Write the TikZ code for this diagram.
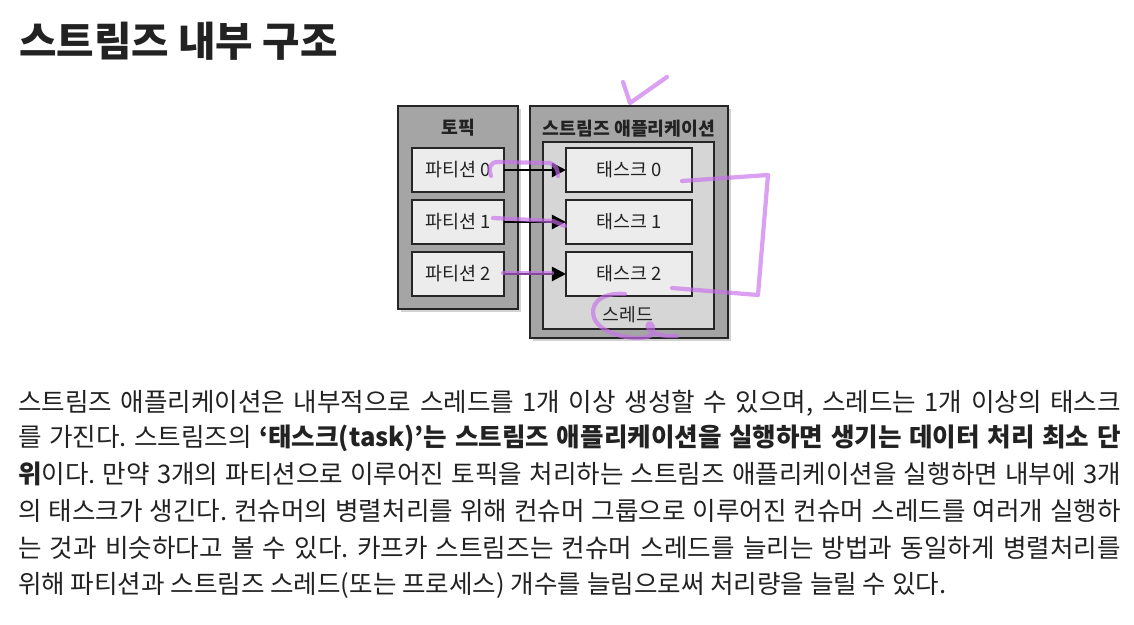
\documentclass[tikz,border=0pt]{standalone}
\usepackage{fontspec}
\setmainfont{Noto Sans CJK KR}
\usepackage{tikz}
\usetikzlibrary{arrows.meta, positioning, shadows}
\definecolor{ink}{RGB}{34, 34, 34}
\definecolor{groupgray}{RGB}{165, 165, 165}
\definecolor{threadgray}{RGB}{214, 214, 214}
\definecolor{itemgray}{RGB}{236, 236, 236}
\definecolor{pen}{RGB}{200, 110, 235}

\begin{document}
\frenchspacing
\begin{tikzpicture}[
    x=0.02cm, y=-0.02cm,
    every node/.style={inner sep=0pt, outer sep=0pt, text=ink},
    groupbox/.style={rectangle, draw=black!85, fill=groupgray, line width=1pt, drop shadow={shadow xshift=1.6pt, shadow yshift=-1.6pt, opacity=0.35}},
    threadbox/.style={rectangle, draw=black!85, fill=threadgray, line width=1pt},
    item/.style={rectangle, draw=black!85, fill=itemgray, line width=1pt, minimum height=0.88cm, font=\fontsize{10.5}{12}\selectfont},
    grouplabel/.style={font=\fontsize{10.4}{12}\selectfont\bfseries},
    bodyline/.style={anchor=west, font=\fontsize{14.55}{17}\selectfont},
    arrow/.style={-{Triangle[length=8pt, width=8pt]}, line width=1.4pt, black},
    scribble/.style={draw=pen, line width=2.4pt, line cap=round, line join=round, opacity=0.65}
]
    \useasboundingbox (0,0) rectangle (1134,625);
    \fill[white] (0,0) rectangle (1134,625);

    % Title
    \node[anchor=west, font=\fontsize{23.2}{27}\selectfont\bfseries] (title) at (19,41) {스트림즈 내부 구조};

    % Groups
    \node (topic) [groupbox, minimum width=2.4cm, minimum height=4.06cm] at (458,207.5) {};
    \node (app) [groupbox, minimum width=3.96cm, minimum height=4.64cm] at (629,222) {};
    \node (thread) [threadbox, minimum width=3.42cm, minimum height=3.74cm] at (628.5,235.5) {};
    \node (topiclabel) [grouplabel] at (458,128) {토픽};
    \node (applabel) [grouplabel] at (629,129) {스트림즈 애플리케이션};
    \node (threadlabel) [grouplabel, font=\fontsize{10.4}{12}\selectfont] at (628,315) {스레드};

    % Nodes
    \node (part0) [item, minimum width=1.84cm] at (458,170) {파티션 0};
    \node (part1) [item, minimum width=1.84cm, below=0.16cm of part0] {파티션 1};
    \node (part2) [item, minimum width=1.84cm, below=0.16cm of part1] {파티션 2};
    \node (task0) [item, minimum width=2.52cm, right=1.24cm of part0] {태스크 0};
    \node (task1) [item, minimum width=2.52cm, right=1.24cm of part1] {태스크 1};
    \node (task2) [item, minimum width=2.52cm, right=1.24cm of part2] {태스크 2};

    % Connections
    \draw [arrow] (part0) -- (task0);
    \draw [arrow] (part1) -- (task1);
    \draw [arrow] (part2) -- (task2);

    % Pen marks
    \draw [scribble] (623,82) -- (630,103) -- (667,77);
    \draw [scribble] (491,176) .. controls (488,168) and (490,162) .. (498,162) -- (550,163) .. controls (556,165) and (558,170) .. (558,176);
    \draw [scribble] (493,218) -- (553,221) -- (565,226);
    \draw [scribble] (503,273) -- (552,273);
    \draw [scribble] (682,181) -- (768,175) -- (758,295) -- (672,288);
    \draw [scribble] (625,294) .. controls (600,292) and (588,305) .. (595,320) .. controls (602,334) and (635,342) .. (650,336) .. controls (656,330) and (652,320) .. (648,324) .. controls (645,332) and (660,337) .. (677,336);

    % Text
    \node (line1) [bodyline] at (18,403) {\makebox[22.06cm][s]{스트림즈 애플리케이션은 내부적으로 스레드를 1개 이상 생성할 수 있으며, 스레드는 1개 이상의 태스크}};
    \node (line2) [bodyline] at (18,438) {\makebox[22.06cm][s]{를 가진다. 스트림즈의 \textbf{‘태스크(task)’는 스트림즈 애플리케이션을 실행하면 생기는 데이터 처리 최소 단}}};
    \node (line3) [bodyline] at (18,474) {\makebox[22.06cm][s]{\textbf{위}이다. 만약 3개의 파티션으로 이루어진 토픽을 처리하는 스트림즈 애플리케이션을 실행하면 내부에 3개}};
    \node (line4) [bodyline] at (18,511) {\makebox[22.06cm][s]{의 태스크가 생긴다. 컨슈머의 병렬처리를 위해 컨슈머 그룹으로 이루어진 컨슈머 스레드를 여러개 실행하}};
    \node (line5) [bodyline] at (18,548) {\makebox[22.06cm][s]{는 것과 비슷하다고 볼 수 있다. 카프카 스트림즈는 컨슈머 스레드를 늘리는 방법과 동일하게 병렬처리를}};
    \node (line6) [bodyline] at (18,585) {위해 파티션과 스트림즈 스레드(또는 프로세스) 개수를 늘림으로써 처리량을 늘릴 수 있다.};
\end{tikzpicture}
\end{document}
